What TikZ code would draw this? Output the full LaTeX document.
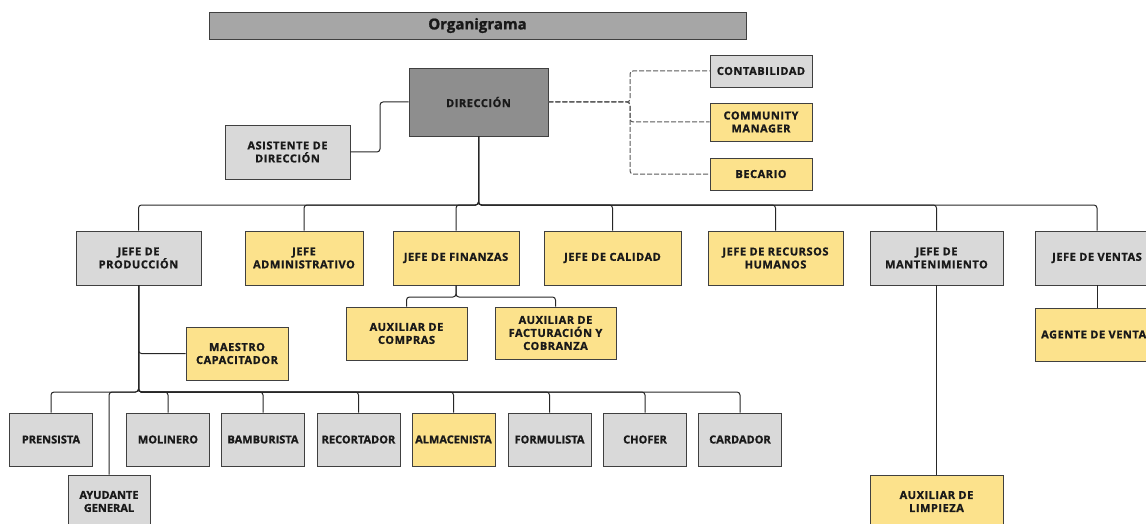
\documentclass[tikz,border=0pt]{standalone}
\usepackage{fontspec}
\setmainfont{Open Sans}[BoldFeatures={FakeBold=1.2}]
\newfontfamily\cajafont{Open Sans}[LetterSpace=5, BoldFeatures={FakeBold=1.2}]
\usetikzlibrary{calc}
\definecolor{amarilloc}{HTML}{FCE28C}
\definecolor{grisclaro}{HTML}{D9D9D9}
\definecolor{grisoscuro}{HTML}{8E8E8E}
\definecolor{gristitulo}{HTML}{A6A6A6}

\begin{document}
\begin{tikzpicture}[
    x=1pt, y=-1pt,
    caja/.style={rectangle, draw=black!75, line width=0.8pt, align=center, text=black!90, font=\cajafont\bfseries\fontsize{11}{13}\selectfont, inner sep=1pt},
    gris/.style={caja, fill=grisclaro},
    amarillo/.style={caja, fill=amarilloc},
    base/.style={caja, font=\bfseries\fontsize{11}{13}\selectfont, minimum width=83pt, minimum height=53pt},
    linea/.style={draw=black!85, line width=1pt, rounded corners=3pt},
    punteada/.style={draw=black!65, line width=1pt, dash pattern=on 5pt off 2pt, rounded corners=3pt},
    ]
      \useasboundingbox (0,0) rectangle (1146,524);

      % titulo y direccion
      \node [caja, fill=gristitulo, minimum width=537pt, minimum height=27pt, font=\bfseries\fontsize{15}{17}\selectfont] (titulo) at (477.5,25.5) {Organigrama};
      \node [caja, fill=grisoscuro, minimum width=139pt, minimum height=68pt] (dir) at (478.5,102) {DIRECCIÓN};
      \node [gris, minimum width=125pt, minimum height=54pt] (asis) at (287.5,152) {ASISTENTE DE\\DIRECCIÓN};
      \node [gris, minimum width=102pt, minimum height=32pt] (cont) at (761,71) {CONTABILIDAD};
      \node [amarillo, minimum width=102pt, minimum height=38pt] (comm) at (761,122) {COMMUNITY\\MANAGER};
      \node [amarillo, minimum width=102pt, minimum height=32pt] (bec) at (761,174) {BECARIO};

      % jefes
      \node [gris, minimum width=125pt, minimum height=54pt] (prod) at (138.5,258) {JEFE DE\\PRODUCCIÓN};
      \node [amarillo, minimum width=118pt, minimum height=54pt] (adm) at (304,258) {JEFE\\ADMINISTRATIVO};
      \node [amarillo, minimum width=126pt, minimum height=54pt] (fin) at (456,258) {JEFE DE FINANZAS};
      \node [amarillo, minimum width=137pt, minimum height=54pt] (cal) at (612.5,258) {JEFE DE CALIDAD};
      \node [amarillo, minimum width=135pt, minimum height=54pt] (rrhh) at (775.5,258) {JEFE DE RECURSOS\\HUMANOS};
      \node [gris, minimum width=133pt, minimum height=54pt] (mant) at (936.5,258) {JEFE DE\\MANTENIMIENTO};
      \node [gris, minimum width=124pt, minimum height=54pt] (ven) at (1097,258) {JEFE DE VENTAS};

      % auxiliares
      \node [amarillo, minimum width=121pt, minimum height=53pt] (comp) at (406.5,333.5) {AUXILIAR DE\\COMPRAS};
      \node [amarillo, minimum width=121pt, minimum height=52pt] (fac) at (555.5,333) {AUXILIAR DE\\FACTURACIÓN Y\\COBRANZA};
      \node [amarillo, minimum width=102pt, minimum height=53pt] (maes) at (237,353.5) {MAESTRO\\CAPACITADOR};
      \node [amarillo, minimum width=124pt, minimum height=53pt] (agen) at (1097,334.5) {AGENTE DE VENTAS};
      \node [amarillo, minimum width=133pt, minimum height=53pt] (limp) at (936.5,501.5) {AUXILIAR DE\\LIMPIEZA};

      % operarios
      \foreach \nom/\cx/\col/\txt in {pren/51/grisclaro/PRENSISTA, mol/168/grisclaro/MOLINERO, bam/263/grisclaro/BAMBURISTA, rec/358.5/grisclaro/RECORTADOR, alm/453.5/amarilloc/ALMACENISTA, form/549.5/grisclaro/FORMULISTA, chof/645/grisclaro/CHOFER, card/740/grisclaro/CARDADOR}
        \node [base, fill=\col] (\nom) at (\cx,439.5) {\txt};
      \node [base, fill=grisclaro, minimum width=82pt] (ayu) at (109,501.5) {AYUDANTE\\GENERAL};

      % buses
      \coordinate (busA) at (0,205);
      \coordinate (busD) at (630,0);
      \coordinate (busE) at (380,0);
      \coordinate (busF) at (0,297);
      \coordinate (busP) at (0,392);

      % conexiones
      \foreach \n in {prod,adm,fin,cal,rrhh,mant,ven}
        \draw [linea] (dir.south) -- (dir.south |- busA) -| (\n.north);
      \draw [linea] (dir.west) -- (dir.west -| busE) |- (asis.east);
      \foreach \n in {cont,comm,bec}
        \draw [punteada] (dir.east) -- (dir.east -| busD) |- (\n.west);
      \foreach \n in {comp,fac}
        \draw [linea] (fin.south) -- (fin.south |- busF) -| (\n.north);
      \draw [linea] (prod.south) |- (maes.west);
      \foreach \n in {pren,ayu,mol,bam,rec,alm,form,chof,card}
        \draw [linea] (prod.south) -- (prod.south |- busP) -| (\n.north);
      \draw [linea] (mant.south) -- (limp.north);
      \draw [linea] (ven.south) -- (agen.north);
  \end{tikzpicture}
\end{document}
